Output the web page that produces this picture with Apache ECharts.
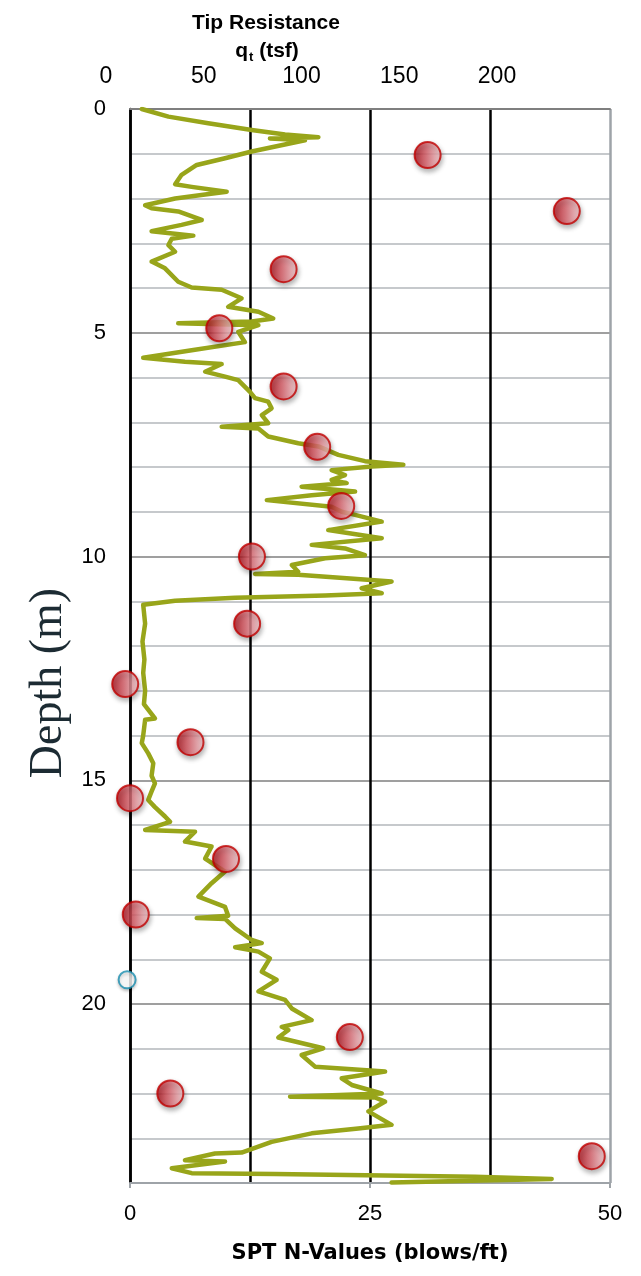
<!DOCTYPE html>
<html>
<head>
<meta charset="utf-8">
<title>CPT / SPT profile</title>
<script src="https://cdn.jsdelivr.net/npm/echarts@6/dist/echarts.min.js"></script>
<style>
  html, body { margin: 0; padding: 0; background: #ffffff; }
  #chart { width: 641px; height: 1276px; }
</style>
</head>
<body>
<div id="chart"></div>
<script>
// Cone tip resistance trace (tsf) against depth (m), in sounding order
const cptQt = [
  4.9, 16, 32.6, 50.7, 64.6, 78.5, 58.3, 72.9, 50.7, 39.6,
  27.8, 21.5, 18.8, 25.7, 40.3, 31.3, 18.8, 6.3, 9.0, 20.1,
  29.9, 21.5, 9.0, 26.4, 17.4, 16.0, 18.8, 9.0, 14.6, 20.1,
  25.7, 38.2, 46.5, 40.9, 53.5, 59.7, 50.7, 20.1, 53.5, 45.1,
  47.9, 25.7, 5.5, 22.9, 38.2, 31.3, 39.6, 45.1, 50.0, 52.1,
  57.6, 59.0, 54.9, 57.6, 38.2, 53.5, 57.6, 70.1, 78.5, 86.8,
  97.9, 113.9, 100.7, 84.0, 89.6, 84.0, 90.3, 71.5, 93.8, 75.7,
  57.0, 84.0, 88.2, 93.8, 104.9, 82.6, 104.9, 75.7, 89.6, 97.9,
  81.3, 67.4, 70.1, 52.1, 70.1, 109.0, 96.5, 104.9, 81.3, 43.8,
  18.8, 5.5, 6.3, 5.2, 6.0, 5.5, 6.3, 5.8, 10.4, 6.3,
  5.5, 4.9, 7.6, 9.7, 9.0, 10.4, 9.0, 7.6, 10.4, 14.6,
  16.7, 6.3, 27.1, 22.9, 34.0, 31.3, 39.6, 34.0, 28.5, 39.6,
  40.9, 27.8, 39.6, 43.8, 50.7, 54.9, 43.8, 53.5, 58.3, 54.9,
  61.1, 53.5, 64.6, 67.4, 75.7, 63.2, 66.0, 61.8, 80.5, 71.5,
  77.1, 106.3, 88.2, 92.4, 104.9, 66.7, 102.1, 106.3, 99.3, 109.0,
  95.1, 75.7, 59.0, 46.5, 35.4, 22.9, 39.6, 17.4, 25.7, 60.4,
  143.8, 175.7, 109.0
];
const cptDepth = [
  0.00, 0.17, 0.32, 0.47, 0.57, 0.63, 0.66, 0.70, 0.95, 1.10,
  1.25, 1.47, 1.68, 1.74, 1.85, 1.91, 2.00, 2.15, 2.22, 2.29,
  2.48, 2.59, 2.73, 2.83, 2.90, 3.04, 3.19, 3.41, 3.56, 3.86,
  3.99, 4.04, 4.23, 4.42, 4.53, 4.68, 4.75, 4.79, 4.83, 4.98,
  5.21, 5.39, 5.56, 5.65, 5.70, 5.87, 5.98, 6.06, 6.32, 6.46,
  6.54, 6.69, 6.84, 7.02, 7.10, 7.14, 7.32, 7.47, 7.54, 7.73,
  7.87, 7.95, 7.99, 8.07, 8.18, 8.29, 8.36, 8.44, 8.55, 8.63,
  8.74, 8.89, 9.00, 9.07, 9.22, 9.41, 9.59, 9.74, 9.82, 9.97,
  10.04, 10.19, 10.34, 10.39, 10.41, 10.56, 10.71, 10.82, 10.87, 10.92,
  10.99, 11.08, 11.50, 11.90, 12.30, 12.60, 13.00, 13.30, 13.62, 13.65,
  14.00, 14.17, 14.40, 14.62, 14.90, 15.07, 15.25, 15.44, 15.60, 15.81,
  15.93, 16.11, 16.15, 16.37, 16.48, 16.75, 17.04, 17.30, 17.60, 17.83,
  18.03, 18.08, 18.10, 18.31, 18.57, 18.64, 18.73, 18.83, 18.98, 19.28,
  19.46, 19.72, 19.91, 20.10, 20.36, 20.51, 20.58, 20.75, 20.99, 21.14,
  21.40, 21.51, 21.66, 21.81, 22.00, 22.07, 22.09, 22.18, 22.40, 22.70,
  22.78, 22.89, 23.08, 23.32, 23.34, 23.49, 23.52, 23.67, 23.78, 23.80,
  23.86, 23.91, 23.99
];

// SPT blow counts (blows/ft) and sample depths (m)
const sptN =     [31, 45.5, 16, 9.3, 16, 19.5, 22, 12.7, 12.2, -0.5, 6.3, 0, 10, 0.6, 22.9, 4.2, 48.1];
const sptDepth = [1.03, 2.28, 3.58, 4.9, 6.2, 7.55, 8.87, 10.0, 11.5, 12.85, 14.15, 15.4, 16.76, 18.0, 20.74, 22.0, 23.4];

// Weight-of-hammer sample (open marker)
const sptWohN = [-0.3];
const sptWohDepth = [19.46];

// Axis ticks
const qtTicks = [0, 50, 100, 150, 200];
const nTicks = [0, 25, 50];
const depthMax = 24;

const cptData = cptQt.map((q, i) => [q, cptDepth[i]]);
const sptData = sptN.map((n, i) => [n, sptDepth[i]]);
const wohData = sptWohN.map((n, i) => [n, sptWohDepth[i]]);

const SANS = "'Liberation Sans', Arial, sans-serif";

const chart = echarts.init(document.getElementById('chart'), null, { renderer: 'canvas' });

chart.setOption({
  backgroundColor: '#ffffff',
  animation: false,
  grid: [
    { left: 130, right: 31, top: 109, bottom: 93 },
    { left: 106, right: 144, top: 109, bottom: 93 }
  ],
  xAxis: [
    {
      // tip resistance scale carrying the vertical grid lines
      type: 'value', gridIndex: 0, position: 'top',
      min: qtTicks[0], max: qtTicks[qtTicks.length - 1], interval: 50,
      axisLine: { show: true, lineStyle: { color: '#7f7f7f', width: 2 } },
      axisTick: { show: false },
      axisLabel: { show: false },
      splitLine: { show: true, lineStyle: { color: ['#000000', '#000000', '#000000', '#000000', '#9ea3a8'], width: 2.5 } }
    },
    {
      // SPT blow count scale
      type: 'value', gridIndex: 0, position: 'bottom',
      min: nTicks[0], max: nTicks[nTicks.length - 1], interval: 25,
      axisLine: { show: true, lineStyle: { color: '#9ea3a8', width: 2 } },
      axisTick: { show: true, length: 5, inside: false, lineStyle: { color: '#9ea3a8', width: 2 } },
      axisLabel: { show: true, margin: 20, fontSize: 22, color: '#000', fontFamily: SANS },
      splitLine: { show: false },
      name: 'SPT N-Values (blows/ft)',
      nameLocation: 'middle',
      nameGap: 60,
      nameTextStyle: { fontSize: 21, fontWeight: 'bold', color: '#000', fontFamily: "'DejaVu Sans', sans-serif" }
    },
    {
      // tip resistance tick labels
      type: 'value', gridIndex: 1, position: 'top',
      min: qtTicks[0], max: qtTicks[qtTicks.length - 1], interval: 50,
      axisLine: { show: false },
      axisTick: { show: false },
      axisLabel: { show: true, margin: 21, fontSize: 23, color: '#000', fontFamily: SANS },
      splitLine: { show: false }
    }
  ],
  yAxis: [
    {
      type: 'value', gridIndex: 0, inverse: true,
      min: 0, max: depthMax, interval: 1,
      axisLine: { show: true, lineStyle: { color: '#000000', width: 2.5 } },
      axisTick: { show: false },
      axisLabel: {
        show: true, interval: 0, margin: 24, fontSize: 22, color: '#000', fontFamily: SANS,
        formatter: v => (v % 5 === 0 ? String(v) : '')
      },
      splitLine: {
        show: true,
        lineStyle: { color: ['#7f7f7f', '#b3b7bb', '#b3b7bb', '#b3b7bb', '#b3b7bb'], width: 1.6 }
      }
    },
    {
      type: 'value', gridIndex: 1, show: false, min: 0, max: depthMax, inverse: true
    }
  ],
  graphic: [
    {
      type: 'text', x: 266, y: 23,
      style: {
        text: 'Tip Resistance', align: 'center', verticalAlign: 'middle',
        fontSize: 21, fontWeight: 'bold', fontFamily: SANS, fill: '#000'
      }
    },
    {
      type: 'text', x: 267, y: 51,
      style: {
        text: '{a|q}{b|t}{a| (tsf)}', align: 'center', verticalAlign: 'middle',
        rich: {
          a: { fontSize: 21, fontWeight: 'bold', fontFamily: SANS, color: '#000' },
          b: { fontSize: 13, fontWeight: 'bold', fontFamily: SANS, color: '#000', padding: [12, 0, 0, 1] }
        }
      }
    },
    {
      type: 'text', x: 49, y: 683, rotation: Math.PI / 2,
      style: {
        text: 'Depth (m)', align: 'center', verticalAlign: 'middle',
        fontSize: 46, fontFamily: "'Liberation Serif', 'Times New Roman', serif", fill: '#1c2b33'
      }
    }
  ],
  series: [
    {
      name: 'Tip Resistance',
      type: 'line',
      xAxisIndex: 0, yAxisIndex: 0,
      data: cptData,
      showSymbol: false,
      symbol: 'none',
      lineStyle: { color: '#98a51a', width: 4.5, join: 'round', cap: 'round' },
      z: 2
    },
    {
      name: 'SPT N',
      type: 'scatter',
      xAxisIndex: 1, yAxisIndex: 0,
      data: sptData,
      clip: false,
      symbol: 'circle',
      symbolSize: 26,
      itemStyle: {
        color: new echarts.graphic.LinearGradient(0, 0, 1, 0, [
          { offset: 0, color: '#b20d18' },
          { offset: 0.45, color: '#d9606a' },
          { offset: 1, color: '#f8d3d7' }
        ]),
        borderColor: '#c00000',
        borderWidth: 2,
        shadowBlur: 5,
        shadowOffsetX: 1,
        shadowOffsetY: 3,
        shadowColor: 'rgba(0,0,0,0.35)'
      },
      z: 4
    },
    {
      name: 'SPT N (WOH)',
      type: 'scatter',
      xAxisIndex: 1, yAxisIndex: 0,
      data: wohData,
      clip: false,
      symbol: 'circle',
      symbolSize: 17,
      itemStyle: {
        color: '#ffffff',
        borderColor: '#1a8fb0',
        borderWidth: 2,
        shadowBlur: 3,
        shadowOffsetY: 2,
        shadowColor: 'rgba(0,0,0,0.25)'
      },
      z: 4
    }
  ]
});
</script>
</body>
</html>
